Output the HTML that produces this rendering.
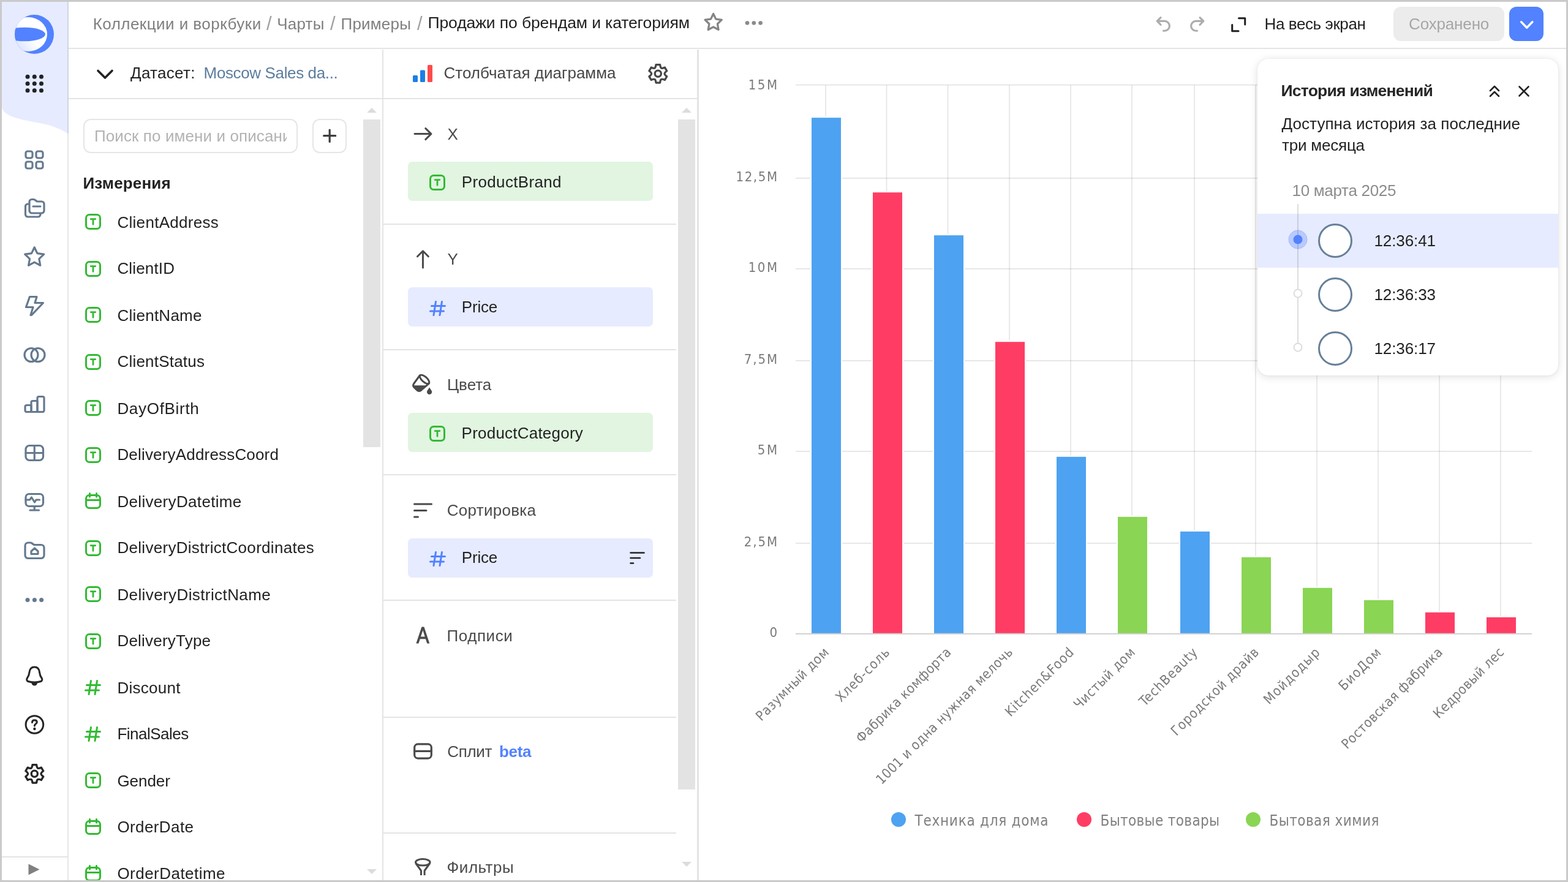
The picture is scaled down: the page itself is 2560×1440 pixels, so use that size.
<!DOCTYPE html>
<html lang="ru"><head><meta charset="utf-8"><title>Продажи по брендам и категориям</title>
<style>
*{box-sizing:border-box;margin:0;padding:0}
html,body{width:2560px;height:1440px;overflow:hidden;background:#fff}
body{position:relative;font-family:"Liberation Sans",sans-serif;font-size:26px;color:#222}
.t{position:absolute;white-space:nowrap;line-height:1}
.i{position:absolute;overflow:visible}
.b{position:absolute}
.ln{position:absolute;background:#e4e4e4}
.s{fill:none;stroke:currentColor;stroke-width:3;stroke-linecap:round;stroke-linejoin:round}
.nav{color:#64798f}
.nav .s{stroke-width:3.2}
.dk{color:#262626}
.sec{color:#4a4a4a}
.chip{position:absolute;left:666px;width:400px;height:64px;border-radius:7px}
.chip.g{background:#e1f5e1}
.chip.bl{background:#e6ebff}
#frame{position:absolute;left:0;top:0;width:2560px;height:1440px;border:3px solid #cacaca;z-index:50;pointer-events:none}
</style></head><body>
<nav id="aside">
<div class="b" style="left:3px;top:3px;width:108px;height:1434px;background:#fff"></div>
<svg class="i " style="left:3px;top:3px;" width="109" height="230" viewBox="0 0 109 230"><path d="M0 0H109V215.8C100 210 88 204 72 200C55 196 30 193 15.8 187C6 182.5 0 178 0 169Z" fill="#e6ebff"/></svg>
<div class="ln" style="left:110px;top:3px;width:2px;height:1434px;background:rgba(0,0,0,0.095)"></div>
<svg class="i " style="left:24px;top:24px;" width="64" height="64" viewBox="0 0 64 64"><defs><clipPath id="lc"><circle cx="32" cy="32" r="32"/></clipPath>
<linearGradient id="lg" x1="0" y1="0.8" x2="0.5" y2="0.45"><stop offset="0" stop-color="#d3ddff"/><stop offset="1" stop-color="#fff"/></linearGradient></defs>
<circle cx="32" cy="32" r="32" fill="#5282ff"/>
<g clip-path="url(#lc)"><ellipse cx="22" cy="32" rx="31" ry="28" fill="url(#lg)"/>
<ellipse cx="16" cy="32" rx="34" ry="11.3" fill="#5282ff"/></g></svg>
<svg class="i " style="left:41px;top:122px;" width="30" height="30" viewBox="0 0 30 30"><g fill="#222326"><circle cx="4.04" cy="3.3" r="3.5"/><circle cx="4.04" cy="14.5" r="3.5"/><circle cx="4.04" cy="25.7" r="3.5"/><circle cx="15.27" cy="3.3" r="3.5"/><circle cx="15.27" cy="14.5" r="3.5"/><circle cx="15.27" cy="25.7" r="3.5"/><circle cx="26.5" cy="3.3" r="3.5"/><circle cx="26.5" cy="14.5" r="3.5"/><circle cx="26.5" cy="25.7" r="3.5"/></g></svg>
<svg class="i nav" style="left:40px;top:245px;" width="32" height="32" viewBox="0 0 32 32"><g class="s"><rect x="2" y="2" width="11" height="11" rx="3"/><rect x="19" y="2" width="11" height="11" rx="3"/><rect x="2" y="19" width="11" height="11" rx="3"/><rect x="19" y="19" width="11" height="11" rx="3"/></g></svg>
<svg class="i nav" style="left:40px;top:324px;" width="32" height="32" viewBox="0 0 32 32"><g class="s"><path d="M7 9H5.5A4 4 0 0 0 1.5 13V26A4 4 0 0 0 5.5 30H22A4 4 0 0 0 26 26V24.5"/><path d="M8 5.5A4 4 0 0 1 12 1.5H14.5C16.5 1.5 17.5 2.5 18.5 3.5C19.3 4.3 20 5 21.5 5H28A4 4 0 0 1 32 9V20A4 4 0 0 1 28 24H12A4 4 0 0 1 8 20Z"/><path d="M14 13H26"/></g></svg>
<svg class="i nav" style="left:40px;top:403px;" width="32" height="32" viewBox="0 0 32 32"><path class="s" d="M16.2,0.8L20.9,10.63L31.7,12.06L23.81,19.57L25.78,30.29L16.2,25.1L6.62,30.29L8.59,19.57L0.7,12.06L11.5,10.63Z"/></svg>
<svg class="i nav" style="left:40px;top:483px;" width="32" height="32" viewBox="0 0 32 32"><path class="s" d="M8.5 2H20L17 12H30.5L11.5 32H10L14 19H2.5Z" transform="translate(0,-0.5)"/></svg>
<svg class="i nav" style="left:40px;top:563px;" width="32" height="32" viewBox="0 0 32 32"><g class="s"><circle cx="11" cy="16.5" r="11"/><circle cx="22" cy="16.5" r="11"/></g></svg>
<svg class="i nav" style="left:40px;top:644px;" width="32" height="32" viewBox="0 0 32 32"><g class="s"><path d="M1 20A2.5 2.5 0 0 1 3.5 17.5H11V28.5H3.5A2.5 2.5 0 0 1 1 26Z"/><path d="M11 13A2.5 2.5 0 0 1 13.5 10.5H21V28.5H11Z"/><path d="M21 6A2.5 2.5 0 0 1 23.5 3.5H29.5A2.5 2.5 0 0 1 32 6V26A2.5 2.5 0 0 1 29.5 28.5H21Z"/></g></svg>
<svg class="i nav" style="left:40px;top:724px;" width="32" height="32" viewBox="0 0 32 32"><g class="s"><rect x="2" y="3.5" width="28.5" height="24" rx="6"/><path d="M16.25 3.5V27.5M2 15.5H30.5"/></g></svg>
<svg class="i nav" style="left:40px;top:804px;" width="32" height="32" viewBox="0 0 32 32"><g class="s"><rect x="2" y="2.5" width="28.5" height="20" rx="5.5"/><path d="M16.25 22.5V29M9 29H23.5"/><path d="M2 12H8.5L11.5 8L16.5 16L19 12H24.5"/></g></svg>
<svg class="i nav" style="left:40px;top:883px;" width="32" height="32" viewBox="0 0 32 32"><g class="s"><path d="M1 8A5 5 0 0 1 6 3H9.5C11.5 3 12.5 4 13.5 5C14.3 5.8 15 6.5 16.5 6.5H27A5 5 0 0 1 32 11.5V23.5A5 5 0 0 1 27 28.5H6A5 5 0 0 1 1 23.5Z"/><path d="M11 21.5V17L16.5 12L22 17V21.5Z"/></g></svg>
<svg class="i nav" style="left:40px;top:963px;" width="32" height="32" viewBox="0 0 32 32"><g fill="currentColor"><circle cx="5" cy="16.4" r="3.5"/><circle cx="16.4" cy="16.4" r="3.5"/><circle cx="27.6" cy="16.4" r="3.5"/></g></svg>
<svg class="i dk" style="left:40px;top:1087px;" width="32" height="32" viewBox="0 0 32 32"><g class="s"><path d="M16.3 2C10.5 2 8.5 6.5 8 10.5C7.5 15 6.5 17.5 4.5 20C3 22 3.5 24.5 6 25.5C9 26.5 12.5 27 16.3 27C20 27 23.5 26.5 26.5 25.5C29 24.5 29.5 22 28 20C26 17.5 25 15 24.5 10.5C24 6.5 22 2 16.3 2Z"/><path d="M13 28.5C13.5 30.5 15 31 16.3 31C17.5 31 19 30.5 19.5 28.5Z" fill="currentColor"/></g></svg>
<svg class="i dk" style="left:40px;top:1167px;" width="32" height="32" viewBox="0 0 32 32"><g class="s"><circle cx="16.4" cy="16" r="14.3"/><path d="M12.5 12.5C12.5 10 14 8.8 16.4 8.8C18.8 8.8 20.3 10.2 20.3 12.2C20.3 14.5 16.4 15 16.4 18"/></g><circle cx="16.4" cy="23" r="2.2" fill="currentColor"/></svg>
<svg class="i dk" style="left:40px;top:1247px;" width="32" height="32" viewBox="0 0 32 32"><g class="s" style="stroke-width:3.3"><path d="M13.03 1.56L19.57 1.56Q20.22 6.34 21.65 7.03Q22.96 7.93 27.43 6.1L30.7 11.76Q26.88 14.72 27 16.3Q26.88 17.88 30.7 20.84L27.43 26.5Q22.96 24.67 21.65 25.57Q20.22 26.26 19.57 31.04L13.03 31.04Q12.38 26.26 10.95 25.57Q9.64 24.67 5.17 26.5L1.9 20.84Q5.72 17.88 5.6 16.3Q5.72 14.72 1.9 11.76L5.17 6.1Q9.64 7.93 10.95 7.03Q12.38 6.34 13.03 1.56Z"/><circle cx="16.3" cy="16.3" r="5.1"/></g></svg>
<div class="ln" style="left:3px;top:1398px;width:108px;height:2px"></div>
<svg class="i " style="left:46px;top:1410px;" width="19" height="19" viewBox="0 0 19 19"><path d="M0.5 0.6L18.5 9.5L0.5 18.5Z" fill="#808080"/></svg>
</nav>
<header id="hdr">
<div class="ln" style="left:112px;top:78px;width:2445px;height:2px"></div>
<span class="t " style="left:151.7px;top:26.29px;font-size:26px;color:#7f7f7f;letter-spacing:0.46px;">Коллекции и воркбуки</span>
<span class="t " style="left:435px;top:23.06px;font-size:31px;color:#a0a0a0;">/</span>
<span class="t " style="left:452.3px;top:26.29px;font-size:26px;color:#7f7f7f;letter-spacing:0.2px;">Чарты</span>
<span class="t " style="left:539px;top:23.06px;font-size:31px;color:#a0a0a0;">/</span>
<span class="t " style="left:556.5px;top:26.29px;font-size:26px;color:#7f7f7f;letter-spacing:0.2px;">Примеры</span>
<span class="t " style="left:681px;top:23.06px;font-size:31px;color:#a0a0a0;">/</span>
<span class="t " style="left:698.5px;top:23.78px;font-size:26.6px;color:#1f1f1f;letter-spacing:-0.15px;">Продажи по брендам и категориям</span>
<svg class="i " style="left:1149px;top:21px;color:#858585" width="32" height="32" viewBox="0 0 32 32"><path class="s" d="M15.65,1.55L19.82,10.11L29.25,11.43L22.4,18.04L24.06,27.42L15.65,22.95L7.24,27.42L8.9,18.04L2.05,11.43L11.48,10.11Z" style="stroke-width:3.3"/></svg>
<svg class="i " style="left:1216px;top:32px;" width="30" height="12" viewBox="0 0 30 12"><g fill="#8a8a8a"><circle cx="4" cy="5.5" r="3.3"/><circle cx="14.8" cy="5.5" r="3.3"/><circle cx="25.6" cy="5.5" r="3.3"/></g></svg>
<svg class="i " style="left:1886px;top:27px;color:#adadad" width="26" height="26" viewBox="0 0 26 26"><g class="s" style="stroke-width:3.2"><path d="M9 1.6L3.2 7.45L9 13.3"/><path d="M3.5 7.45H15.5A7.9 7.9 0 0 1 15.5 23.25H13.5"/></g></svg>
<svg class="i " style="left:1942px;top:27px;color:#adadad" width="26" height="26" viewBox="0 0 26 26"><g class="s" style="stroke-width:3.2"><path d="M17 1.6L22.8 7.45L17 13.3"/><path d="M22.5 7.45H10.5A7.9 7.9 0 0 0 10.5 23.25H12.5"/></g></svg>
<svg class="i " style="left:2010px;top:28px;color:#1f1f1f" width="25" height="25" viewBox="0 0 25 25"><g class="s" style="stroke-width:3"><path d="M12.5 1.7H22.7V12"/><path d="M1.7 12.5V22.7H12"/></g></svg>
<span class="t " style="left:2064.5px;top:26.29px;font-size:26px;color:#1f1f1f;letter-spacing:-0.4px;">На весь экран</span>
<div class="b" style="left:2275px;top:11px;width:181px;height:56px;border-radius:12px;background:#ececec"></div>
<span class="t " style="left:2300px;top:26.29px;font-size:26px;color:#a6a6a6;letter-spacing:-0.15px;">Сохранено</span>
<div class="b" style="left:2464px;top:11px;width:56px;height:56px;border-radius:12px;background:#5282ff"></div>
<svg class="i " style="left:2479px;top:31px;color:#fff" width="26" height="17" viewBox="0 0 26 17"><path class="s" d="M4.6 4.8L13.75 14.2L22.9 4.8" style="stroke-width:3.4"/></svg>
</header>
<section id="dataset">
<div class="ln" style="left:112px;top:160px;width:1027px;height:2px"></div>
<div class="ln" style="left:624px;top:81px;width:2px;height:1356px"></div>
<svg class="i " style="left:158.3px;top:113px;color:#222" width="27" height="17" viewBox="0 0 27 17"><path class="s" d="M2 2.5L13.5 14L25 2.5" style="stroke-width:3.6"/></svg>
<span class="t " style="left:213px;top:106.29px;font-size:26px;color:#222;letter-spacing:0.3px;">Датасет:</span>
<span class="t " style="left:332.6px;top:106.29px;font-size:26px;color:#5b7d9e;letter-spacing:-0.37px;">Moscow Sales da...</span>
<div class="b" style="left:136px;top:194px;width:350px;height:56px;border:2px solid #e6e6e6;border-radius:12px"></div>
<span class="t " style="left:154px;top:209.29px;font-size:26px;color:#b3b3b3;letter-spacing:0.1px;width:314px;overflow:hidden;">Поиск по имени и описани</span>
<div class="b" style="left:510px;top:194px;width:56px;height:56px;border:2px solid #e6e6e6;border-radius:12px"></div>
<svg class="i " style="left:527px;top:210px;color:#3d3d3d" width="23" height="24" viewBox="0 0 23 24"><path class="s" d="M11.2 2V21.4M1.7 11.7H20.7" style="stroke-width:3.2"/></svg>
<svg class="i " style="left:599px;top:175px;" width="16" height="10" viewBox="0 0 16 10"><path d="M0 9L8 1L16 9Z" fill="#dcdcdc"/></svg>
<div class="b" style="left:593px;top:195px;width:28px;height:535px;background:#e3e3e3"></div>
<svg class="i " style="left:599px;top:1418px;" width="16" height="10" viewBox="0 0 16 10"><path d="M0 1L8 9L16 1Z" fill="#dcdcdc"/></svg>
<span class="t " style="left:135.5px;top:286.29px;font-size:26px;color:#222;font-weight:700;letter-spacing:0.15px;">Измерения</span>
<ul style="list-style:none">
<li>
<svg class="i " style="left:139px;top:349px;" width="26" height="26" viewBox="0 0 26 26"><rect x="1.5" y="1.5" width="23" height="23" rx="5.5" fill="none" stroke="#32ba32" stroke-width="3"/><path d="M9.2 8.6H16.8M13 8.6V17.3" fill="none" stroke="#32ba32" stroke-width="2.8" stroke-linecap="round"/></svg>
<span class="t " style="left:191.4px;top:350.29px;font-size:26px;color:#222;letter-spacing:0.3px;">ClientAddress</span>
</li>
<li>
<svg class="i " style="left:139px;top:425.8px;" width="26" height="26" viewBox="0 0 26 26"><rect x="1.5" y="1.5" width="23" height="23" rx="5.5" fill="none" stroke="#32ba32" stroke-width="3"/><path d="M9.2 8.6H16.8M13 8.6V17.3" fill="none" stroke="#32ba32" stroke-width="2.8" stroke-linecap="round"/></svg>
<span class="t " style="left:191.4px;top:425.29px;font-size:26px;color:#222;letter-spacing:0.15px;">ClientID</span>
</li>
<li>
<svg class="i " style="left:139px;top:501px;" width="26" height="26" viewBox="0 0 26 26"><rect x="1.5" y="1.5" width="23" height="23" rx="5.5" fill="none" stroke="#32ba32" stroke-width="3"/><path d="M9.2 8.6H16.8M13 8.6V17.3" fill="none" stroke="#32ba32" stroke-width="2.8" stroke-linecap="round"/></svg>
<span class="t " style="left:191.4px;top:502.29px;font-size:26px;color:#222;letter-spacing:0.25px;">ClientName</span>
</li>
<li>
<svg class="i " style="left:139px;top:577.8px;" width="26" height="26" viewBox="0 0 26 26"><rect x="1.5" y="1.5" width="23" height="23" rx="5.5" fill="none" stroke="#32ba32" stroke-width="3"/><path d="M9.2 8.6H16.8M13 8.6V17.3" fill="none" stroke="#32ba32" stroke-width="2.8" stroke-linecap="round"/></svg>
<span class="t " style="left:191.4px;top:577.29px;font-size:26px;color:#222;letter-spacing:0.22px;">ClientStatus</span>
</li>
<li>
<svg class="i " style="left:139px;top:653px;" width="26" height="26" viewBox="0 0 26 26"><rect x="1.5" y="1.5" width="23" height="23" rx="5.5" fill="none" stroke="#32ba32" stroke-width="3"/><path d="M9.2 8.6H16.8M13 8.6V17.3" fill="none" stroke="#32ba32" stroke-width="2.8" stroke-linecap="round"/></svg>
<span class="t " style="left:191.4px;top:654.29px;font-size:26px;color:#222;letter-spacing:0.7px;">DayOfBirth</span>
</li>
<li>
<svg class="i " style="left:139px;top:729.8px;" width="26" height="26" viewBox="0 0 26 26"><rect x="1.5" y="1.5" width="23" height="23" rx="5.5" fill="none" stroke="#32ba32" stroke-width="3"/><path d="M9.2 8.6H16.8M13 8.6V17.3" fill="none" stroke="#32ba32" stroke-width="2.8" stroke-linecap="round"/></svg>
<span class="t " style="left:191.4px;top:729.29px;font-size:26px;color:#222;letter-spacing:0.18px;">DeliveryAddressCoord</span>
</li>
<li>
<svg class="i " style="left:139px;top:803.5px;" width="26" height="27" viewBox="0 0 26 27"><g fill="none" stroke="#32ba32" stroke-width="3" stroke-linecap="round"><rect x="1.5" y="4.5" width="23" height="21" rx="5.5"/><path d="M1.5 12.5H24.5M7.5 1.5V7M18.5 1.5V7"/></g></svg>
<span class="t " style="left:191.4px;top:806.29px;font-size:26px;color:#222;letter-spacing:0.33px;">DeliveryDatetime</span>
</li>
<li>
<svg class="i " style="left:139px;top:881.8px;" width="26" height="26" viewBox="0 0 26 26"><rect x="1.5" y="1.5" width="23" height="23" rx="5.5" fill="none" stroke="#32ba32" stroke-width="3"/><path d="M9.2 8.6H16.8M13 8.6V17.3" fill="none" stroke="#32ba32" stroke-width="2.8" stroke-linecap="round"/></svg>
<span class="t " style="left:191.4px;top:881.29px;font-size:26px;color:#222;letter-spacing:0.3px;">DeliveryDistrictCoordinates</span>
</li>
<li>
<svg class="i " style="left:139px;top:957px;" width="26" height="26" viewBox="0 0 26 26"><rect x="1.5" y="1.5" width="23" height="23" rx="5.5" fill="none" stroke="#32ba32" stroke-width="3"/><path d="M9.2 8.6H16.8M13 8.6V17.3" fill="none" stroke="#32ba32" stroke-width="2.8" stroke-linecap="round"/></svg>
<span class="t " style="left:191.4px;top:958.29px;font-size:26px;color:#222;letter-spacing:0.4px;">DeliveryDistrictName</span>
</li>
<li>
<svg class="i " style="left:139px;top:1033.8px;" width="26" height="26" viewBox="0 0 26 26"><rect x="1.5" y="1.5" width="23" height="23" rx="5.5" fill="none" stroke="#32ba32" stroke-width="3"/><path d="M9.2 8.6H16.8M13 8.6V17.3" fill="none" stroke="#32ba32" stroke-width="2.8" stroke-linecap="round"/></svg>
<span class="t " style="left:191.4px;top:1033.29px;font-size:26px;color:#222;letter-spacing:0.22px;">DeliveryType</span>
</li>
<li>
<svg class="i " style="left:138px;top:1109.5px;" width="27" height="25" viewBox="0 0 27 25"><g fill="none" stroke="#32ba32" stroke-width="3" stroke-linecap="round"><path d="M10.5 1.5L7 23.5M20.5 1.5L17 23.5M3.5 8.5H25.5M1.5 17H23.5"/></g></svg>
<span class="t " style="left:191.4px;top:1110.29px;font-size:26px;color:#222;letter-spacing:0.28px;">Discount</span>
</li>
<li>
<svg class="i " style="left:138px;top:1186.3px;" width="27" height="25" viewBox="0 0 27 25"><g fill="none" stroke="#32ba32" stroke-width="3" stroke-linecap="round"><path d="M10.5 1.5L7 23.5M20.5 1.5L17 23.5M3.5 8.5H25.5M1.5 17H23.5"/></g></svg>
<span class="t " style="left:191.4px;top:1185.29px;font-size:26px;color:#222;letter-spacing:-0.5px;">FinalSales</span>
</li>
<li>
<svg class="i " style="left:139px;top:1261px;" width="26" height="26" viewBox="0 0 26 26"><rect x="1.5" y="1.5" width="23" height="23" rx="5.5" fill="none" stroke="#32ba32" stroke-width="3"/><path d="M9.2 8.6H16.8M13 8.6V17.3" fill="none" stroke="#32ba32" stroke-width="2.8" stroke-linecap="round"/></svg>
<span class="t " style="left:191.4px;top:1262.29px;font-size:26px;color:#222;letter-spacing:-0.05px;">Gender</span>
</li>
<li>
<svg class="i " style="left:139px;top:1336.3px;" width="26" height="27" viewBox="0 0 26 27"><g fill="none" stroke="#32ba32" stroke-width="3" stroke-linecap="round"><rect x="1.5" y="4.5" width="23" height="21" rx="5.5"/><path d="M1.5 12.5H24.5M7.5 1.5V7M18.5 1.5V7"/></g></svg>
<span class="t " style="left:191.4px;top:1337.29px;font-size:26px;color:#222;letter-spacing:0.4px;">OrderDate</span>
</li>
<li>
<svg class="i " style="left:139px;top:1411.5px;" width="26" height="27" viewBox="0 0 26 27"><g fill="none" stroke="#32ba32" stroke-width="3" stroke-linecap="round"><rect x="1.5" y="4.5" width="23" height="21" rx="5.5"/><path d="M1.5 12.5H24.5M7.5 1.5V7M18.5 1.5V7"/></g></svg>
<span class="t " style="left:191.4px;top:1413.29px;font-size:26px;color:#222;letter-spacing:0.47px;">OrderDatetime</span>
</li>
</ul>
</section>
<section id="viz">
<div class="ln" style="left:1137.5px;top:81px;width:3px;height:1356px;background:#e3e3e3"></div>
<svg class="i " style="left:674px;top:106px;" width="32" height="28" viewBox="0 0 32 28"><rect x="0" y="17" width="8" height="11" rx="1.5" fill="#1b7fe5"/><rect x="12" y="8.5" width="8" height="19.5" rx="1.5" fill="#1b7fe5"/><rect x="24" y="0" width="8" height="28" rx="1.5" fill="#ff4b4b"/></svg>
<span class="t " style="left:724.5px;top:106.29px;font-size:26px;color:#474747;">Столбчатая диаграмма</span>
<svg class="i " style="left:1057.6px;top:104px;color:#474747" width="33" height="33" viewBox="0 0 33 33"><g class="s" style="stroke-width:3.3"><path d="M13.03 1.56L19.57 1.56Q20.22 6.34 21.65 7.03Q22.96 7.93 27.43 6.1L30.7 11.76Q26.88 14.72 27 16.3Q26.88 17.88 30.7 20.84L27.43 26.5Q22.96 24.67 21.65 25.57Q20.22 26.26 19.57 31.04L13.03 31.04Q12.38 26.26 10.95 25.57Q9.64 24.67 5.17 26.5L1.9 20.84Q5.72 17.88 5.6 16.3Q5.72 14.72 1.9 11.76L5.17 6.1Q9.64 7.93 10.95 7.03Q12.38 6.34 13.03 1.56Z"/><circle cx="16.3" cy="16.3" r="5.1"/></g></svg>
<svg class="i " style="left:1113px;top:175px;" width="16" height="10" viewBox="0 0 16 10"><path d="M0 9L8 1L16 9Z" fill="#dcdcdc"/></svg>
<div class="b" style="left:1107px;top:195px;width:28px;height:1094px;background:#e3e3e3"></div>
<svg class="i " style="left:1113px;top:1406px;" width="16" height="10" viewBox="0 0 16 10"><path d="M0 1L8 9L16 1Z" fill="#dcdcdc"/></svg>
<div class="ln" style="left:626px;top:365px;width:478px;height:2px"></div>
<div class="ln" style="left:626px;top:569.5px;width:478px;height:2px"></div>
<div class="ln" style="left:626px;top:774px;width:478px;height:2px"></div>
<div class="ln" style="left:626px;top:979px;width:478px;height:2px"></div>
<div class="ln" style="left:626px;top:1169.5px;width:478px;height:2px"></div>
<div class="ln" style="left:626px;top:1358.5px;width:478px;height:2px"></div>
<svg class="i sec" style="left:675px;top:204px;" width="31" height="30" viewBox="0 0 31 30"><path class="s" d="M2 14.6H28.5M19.8 5.6L28.9 14.6L19.8 23.6" style="stroke-width:3"/></svg>
<span class="t " style="left:730.5px;top:206.29px;font-size:26px;color:#4a4a4a;">X</span>
<div class="chip g" style="top:264px"></div>
<svg class="i " style="left:701px;top:285px;" width="26" height="26" viewBox="0 0 26 26"><rect x="1.5" y="1.5" width="23" height="23" rx="5.5" fill="none" stroke="#32ba32" stroke-width="3"/><path d="M9.2 8.6H16.8M13 8.6V17.3" fill="none" stroke="#32ba32" stroke-width="2.8" stroke-linecap="round"/></svg>
<span class="t " style="left:753.8px;top:284.29px;font-size:26px;color:#222;letter-spacing:0.34px;">ProductBrand</span>
<svg class="i sec" style="left:675px;top:408px;" width="31" height="31" viewBox="0 0 31 31"><path class="s" d="M15.45 28.9V2M6.5 10.8L15.45 1.8L24.4 10.8" style="stroke-width:3"/></svg>
<span class="t " style="left:730.5px;top:410.29px;font-size:26px;color:#4a4a4a;">Y</span>
<div class="chip bl" style="top:469px"></div>
<svg class="i " style="left:700.5px;top:490.5px;" width="27" height="25" viewBox="0 0 27 25"><g fill="none" stroke="#5282ff" stroke-width="3" stroke-linecap="round"><path d="M10.5 1.5L7 23.5M20.5 1.5L17 23.5M3.5 8.5H25.5M1.5 17H23.5"/></g></svg>
<span class="t " style="left:753.8px;top:488.29px;font-size:26px;color:#222;letter-spacing:-0.2px;">Price</span>
<svg class="i " style="left:673px;top:610px;" width="33" height="35" viewBox="0 0 33 35"><g class="sec"><ellipse class="s" cx="20.05" cy="9.3" rx="9.6" ry="4.2" transform="rotate(42 20.05 9.3)"/><path class="s" d="M12.3 3L2.5 16.5Q0.5 19.5 2.9 22.2L8 27.2Q10.8 29.8 14.2 27.4L27.6 15.8"/><path d="M1 19.3H25.5L14.2 28Q10.8 30.5 8 27.8L2.2 22.5Q0.8 21 1 19.3Z" fill="currentColor"/><path d="M28.1 22.5C29.6 25.3 32.3 27.8 32.3 29.8A4.2 4.2 0 0 1 23.9 29.8C23.9 27.8 26.6 25.3 28.1 22.5Z" fill="currentColor"/></g></svg>
<span class="t " style="left:729.9px;top:615.29px;font-size:26px;color:#4a4a4a;">Цвета</span>
<div class="chip g" style="top:674px"></div>
<svg class="i " style="left:701px;top:694.5px;" width="26" height="26" viewBox="0 0 26 26"><rect x="1.5" y="1.5" width="23" height="23" rx="5.5" fill="none" stroke="#32ba32" stroke-width="3"/><path d="M9.2 8.6H16.8M13 8.6V17.3" fill="none" stroke="#32ba32" stroke-width="2.8" stroke-linecap="round"/></svg>
<span class="t " style="left:753.6px;top:694.29px;font-size:26px;color:#222;letter-spacing:0.22px;">ProductCategory</span>
<svg class="i sec" style="left:674.5px;top:820.5px;" width="31" height="25" viewBox="0 0 31 25"><path class="s" d="M1.5 2H29.5M1.5 12.5H21M1.5 23H7.5" style="stroke-width:3"/></svg>
<span class="t " style="left:729.8px;top:820.29px;font-size:26px;color:#4a4a4a;letter-spacing:0.28px;">Сортировка</span>
<div class="chip bl" style="top:879px"></div>
<svg class="i " style="left:700.5px;top:900px;" width="27" height="25" viewBox="0 0 27 25"><g fill="none" stroke="#5282ff" stroke-width="3" stroke-linecap="round"><path d="M10.5 1.5L7 23.5M20.5 1.5L17 23.5M3.5 8.5H25.5M1.5 17H23.5"/></g></svg>
<span class="t " style="left:753.8px;top:897.29px;font-size:26px;color:#222;letter-spacing:-0.2px;">Price</span>
<svg class="i " style="left:1028px;top:901px;color:#222" width="25" height="20" viewBox="0 0 25 20"><path class="s" d="M1.5 1.5H23.5M1.5 10H17M1.5 18.5H6" style="stroke-width:2.6"/></svg>
<span class="t " style="left:679.8px;top:1020.4px;font-size:36.5px;color:#4a4a4a;transform:scaleX(0.85);transform-origin:0 0;-webkit-text-stroke:1px #4a4a4a;">A</span>
<span class="t " style="left:729.6px;top:1025.29px;font-size:26px;color:#4a4a4a;letter-spacing:0.55px;">Подписи</span>
<svg class="i sec" style="left:674.5px;top:1213px;" width="31" height="27" viewBox="0 0 31 27"><g class="s" style="stroke-width:3.2"><rect x="1.7" y="1.9" width="27.6" height="23.2" rx="5.5"/><path d="M1.7 13.3H29.3"/></g></svg>
<span class="t " style="left:730.2px;top:1214.29px;font-size:26px;color:#4a4a4a;letter-spacing:-0.3px;">Сплит</span>
<span class="t " style="left:815px;top:1214.29px;font-size:26px;color:#5282ff;font-weight:700;letter-spacing:-0.3px;">beta</span>
<svg class="i sec" style="left:677px;top:1401px;" width="28" height="29" viewBox="0 0 28 29"><g class="s" style="stroke-linecap:butt"><ellipse cx="13.3" cy="6.8" rx="11.8" ry="5.3"/><path d="M1.8 8.5L10.5 20.5V28M24.8 8.5L16.1 20.5V28"/></g></svg>
<span class="t " style="left:729.6px;top:1403.29px;font-size:26px;color:#4a4a4a;letter-spacing:0.5px;">Фильтры</span>
</section>
<main id="chart">
<svg class="i" style="left:0;top:0" width="2560" height="1440" viewBox="0 0 2560 1440"><g stroke="rgba(0,0,0,0.105)" stroke-width="1.7" fill="none"><path d="M1299 138.7H2501"/><path d="M1299 290.9H2501"/><path d="M1299 438.9H2501"/><path d="M1299 588.9H2501"/><path d="M1299 736.9H2501"/><path d="M1299 886.9H2501"/><path d="M1348 138.7V1034.7"/><path d="M1447.5 138.7V1034.7"/><path d="M1547.5 138.7V1034.7"/><path d="M1648 138.7V1034.7"/><path d="M1748 138.7V1034.7"/><path d="M1848 138.7V1034.7"/><path d="M1950 138.7V1034.7"/><path d="M2050 138.7V1034.7"/><path d="M2150 138.7V1034.7"/><path d="M2250 138.7V1034.7"/><path d="M2350 138.7V1034.7"/><path d="M2450 138.7V1034.7"/></g><rect x="1323" y="190.2" width="52" height="844.5" fill="#fff"/><rect x="1325" y="192.2" width="48" height="842.5" fill="#4da2f1"/><rect x="1423" y="312.2" width="52" height="722.5" fill="#fff"/><rect x="1425" y="314.2" width="48" height="720.5" fill="#ff3d64"/><rect x="1523" y="382.2" width="52" height="652.5" fill="#fff"/><rect x="1525" y="384.2" width="48" height="650.5" fill="#4da2f1"/><rect x="1623" y="556.2" width="52" height="478.5" fill="#fff"/><rect x="1625" y="558.2" width="48" height="476.5" fill="#ff3d64"/><rect x="1723" y="743.8" width="52" height="290.9" fill="#fff"/><rect x="1725" y="745.8" width="48" height="288.9" fill="#4da2f1"/><rect x="1823" y="841.8" width="52" height="192.9" fill="#fff"/><rect x="1825" y="843.8" width="48" height="190.9" fill="#8ad554"/><rect x="1925" y="865.8" width="52" height="168.9" fill="#fff"/><rect x="1927" y="867.8" width="48" height="166.9" fill="#4da2f1"/><rect x="2025" y="907.8" width="52" height="126.9" fill="#fff"/><rect x="2027" y="909.8" width="48" height="124.9" fill="#8ad554"/><rect x="2125" y="957.8" width="52" height="76.9" fill="#fff"/><rect x="2127" y="959.8" width="48" height="74.9" fill="#8ad554"/><rect x="2225" y="977.8" width="52" height="56.9" fill="#fff"/><rect x="2227" y="979.8" width="48" height="54.9" fill="#8ad554"/><rect x="2325" y="997.8" width="52" height="36.9" fill="#fff"/><rect x="2327" y="999.8" width="48" height="34.9" fill="#ff3d64"/><rect x="2425" y="1005.8" width="52" height="28.9" fill="#fff"/><rect x="2427" y="1007.8" width="48" height="26.9" fill="#ff3d64"/><path d="M1299 1034.7H2501" stroke="#cfcfcf" stroke-width="2" fill="none"/><g font-family='"DejaVu Sans Condensed", "DejaVu Sans", "Liberation Sans", sans-serif' font-stretch="condensed" font-size="22" fill="#7a7a7a" text-anchor="end"><text x="1271.5" y="146.3" letter-spacing="2.5">15M</text><text x="1270.6" y="296" letter-spacing="1.6">12,5M</text><text x="1271.5" y="444" letter-spacing="2.5">10M</text><text x="1270.9" y="594" letter-spacing="1.9">7,5M</text><text x="1271.5" y="742" letter-spacing="2.5">5M</text><text x="1270.9" y="892" letter-spacing="1.9">2,5M</text><text x="1270.5" y="1040.3" letter-spacing="1.5">0</text></g><g font-family='"DejaVu Sans Condensed", "DejaVu Sans", "Liberation Sans", sans-serif' font-stretch="condensed" font-size="22" fill="#7a7a7a" text-anchor="end"><text transform="translate(1355,1066) rotate(-45)" letter-spacing="0.73">Разумный дом</text><text transform="translate(1454.5,1066) rotate(-45)" letter-spacing="1.1">Хлеб-соль</text><text transform="translate(1554.5,1066) rotate(-45)" letter-spacing="0.5">Фабрика комфорта</text><text transform="translate(1655,1066) rotate(-45)" letter-spacing="0.45">1001 и одна нужная мелочь</text><text transform="translate(1755,1066) rotate(-45)" letter-spacing="0.94">Kitchen&amp;Food</text><text transform="translate(1855,1066) rotate(-45)" letter-spacing="0.72">Чистый дом</text><text transform="translate(1957,1066) rotate(-45)" letter-spacing="1.07">TechBeauty</text><text transform="translate(2057,1066) rotate(-45)" letter-spacing="0.88">Городской драйв</text><text transform="translate(2157,1066) rotate(-45)" letter-spacing="1.33">Мойдодыр</text><text transform="translate(2257,1066) rotate(-45)" letter-spacing="1.23">БиоДом</text><text transform="translate(2357,1066) rotate(-45)" letter-spacing="0.5">Ростовская фабрика</text><text transform="translate(2457,1066) rotate(-45)" letter-spacing="0.5">Кедровый лес</text></g><g font-family='"DejaVu Sans Condensed", "DejaVu Sans", "Liberation Sans", sans-serif' font-stretch="condensed" font-size="24" fill="#7f7f7f"><circle cx="1467" cy="1338" r="12" fill="#4da2f1"/><text x="1493.5" y="1348.3" letter-spacing="0.75">Техника для дома</text><circle cx="1770" cy="1338" r="12" fill="#ff3d64"/><text x="1796.5" y="1348.3" letter-spacing="0.35">Бытовые товары</text><circle cx="2046" cy="1338" r="12" fill="#8ad554"/><text x="2072.5" y="1348.3" letter-spacing="0.45">Бытовая химия</text></g></svg>
</main>
<aside id="history">
<div class="b" style="left:2053px;top:96px;width:491px;height:517px;border-radius:18px;background:#fff;box-shadow:0 2px 14px rgba(0,0,0,0.13),0 0 2px rgba(0,0,0,0.08);overflow:hidden"><div class="b" style="left:0;top:253px;width:491px;height:87.5px;background:#e6ebff"></div></div>
<span class="t " style="left:2091.5px;top:134.87px;font-size:26.5px;color:#262626;font-weight:700;letter-spacing:-0.75px;">История изменений</span>
<svg class="i " style="left:2431px;top:139px;color:#222" width="18" height="20" viewBox="0 0 18 20"><path class="s" d="M2 9L9 2L16 9M2 18L9 11L16 18" style="stroke-width:2.6"/></svg>
<svg class="i " style="left:2479px;top:140px;color:#222" width="18" height="18" viewBox="0 0 18 18"><path class="s" d="M1.5 1.5L16.5 16.5M16.5 1.5L1.5 16.5" style="stroke-width:2.6"/></svg>
<span class="t " style="left:2092.5px;top:189.29px;font-size:26px;color:#222;letter-spacing:0.08px;">Доступна история за последние</span>
<span class="t " style="left:2093px;top:224.29px;font-size:26px;color:#222;letter-spacing:-0.2px;">три месяца</span>
<span class="t " style="left:2109.5px;top:298.29px;font-size:26px;color:#8c8c8c;letter-spacing:-0.3px;">10 марта 2025</span>
<svg class="i " style="left:2103px;top:375px;" width="32" height="32" viewBox="0 0 32 32"><circle cx="16" cy="16" r="15" fill="#b9caff" stroke="#a3b9ff" stroke-width="1"/></svg>
<div class="b" style="left:2118px;top:333px;width:2px;height:234px;background:rgba(0,0,0,0.13)"></div>
<svg class="i " style="left:2103px;top:375px;" width="32" height="32" viewBox="0 0 32 32"><circle cx="16" cy="16" r="7.5" fill="#5282ff"/></svg>
<svg class="i " style="left:2111px;top:471px;" width="16" height="16" viewBox="0 0 16 16"><circle cx="8" cy="8" r="6.5" fill="#fff" stroke="#dcdcdc" stroke-width="2"/></svg>
<svg class="i " style="left:2111px;top:559px;" width="16" height="16" viewBox="0 0 16 16"><circle cx="8" cy="8" r="6.5" fill="#fff" stroke="#dcdcdc" stroke-width="2"/></svg>
<div class="b" style="left:2152px;top:364.5px;width:56px;height:56px;border-radius:50%;border:3px solid #667f99;background:#fff"></div>
<span class="t " style="left:2243.5px;top:380.29px;font-size:26px;color:#222;letter-spacing:-0.1px;">12:36:41</span>
<div class="b" style="left:2152px;top:452.5px;width:56px;height:56px;border-radius:50%;border:3px solid #667f99;background:#fff"></div>
<span class="t " style="left:2243.5px;top:468.29px;font-size:26px;color:#222;letter-spacing:-0.1px;">12:36:33</span>
<div class="b" style="left:2152px;top:540.5px;width:56px;height:56px;border-radius:50%;border:3px solid #667f99;background:#fff"></div>
<span class="t " style="left:2243.5px;top:556.29px;font-size:26px;color:#222;letter-spacing:-0.1px;">12:36:17</span>
</aside>
<div id="frame"></div>
</body></html>
